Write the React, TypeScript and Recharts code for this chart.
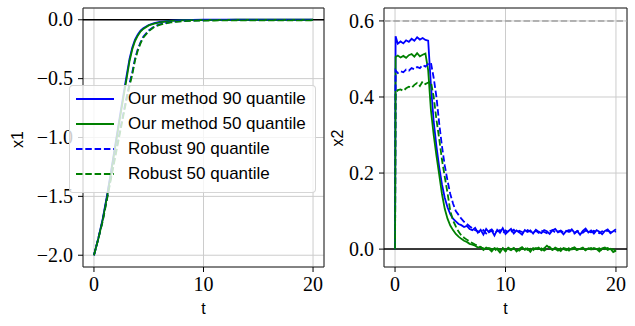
import React from 'react';
import {
  LineChart,
  Line,
  XAxis,
  YAxis,
  CartesianGrid,
  ReferenceLine,
  ReferenceArea,
  Legend,
  Label,
} from 'recharts';

// ---------- data: left panel (x1) ----------
const T1 = [0, 0.4, 0.8, 1.2, 1.6, 2.0, 2.4, 2.8, 3.0, 3.25, 3.5, 3.75, 4.0, 4.25, 4.5, 5.0, 5.5, 6.0, 6.5, 7.0, 7.5, 8.0, 9, 10, 11, 12, 13, 14, 15, 16, 17, 18, 19, 20];
const OURS90_X1 = [-2.0, -1.855, -1.69, -1.49, -1.265, -1.03, -0.8, -0.575, -0.465, -0.33, -0.235, -0.168, -0.125, -0.093, -0.072, -0.044, -0.029, -0.019, -0.013, -0.008, -0.005, -0.003, -0.001, 0, 0, 0, 0, 0, 0, 0, 0, 0, 0, 0];
const OURS50_X1 = [-2.0, -1.86, -1.7, -1.5, -1.28, -1.05, -0.82, -0.6, -0.49, -0.35, -0.25, -0.18, -0.135, -0.1, -0.078, -0.048, -0.032, -0.022, -0.015, -0.01, -0.007, -0.005, -0.003, -0.002, -0.001, -0.001, 0, 0, 0, 0, 0, 0, 0, 0];
const ROB90_X1 = [-2.0, -1.857, -1.705, -1.51, -1.315, -1.12, -0.93, -0.74, -0.65, -0.54, -0.445, -0.33, -0.25, -0.192, -0.145, -0.091, -0.057, -0.039, -0.028, -0.02, -0.014, -0.01, -0.006, -0.004, -0.003, -0.002, -0.002, -0.002, -0.002, -0.002, -0.002, -0.002, -0.002, -0.002];
const ROB50_X1 = [-2.0, -1.86, -1.71, -1.52, -1.33, -1.14, -0.95, -0.76, -0.67, -0.56, -0.465, -0.345, -0.262, -0.2, -0.152, -0.096, -0.061, -0.043, -0.031, -0.023, -0.017, -0.013, -0.009, -0.007, -0.006, -0.005, -0.005, -0.005, -0.005, -0.005, -0.005, -0.005, -0.005, -0.005];

// ---------- data: right panel (x2) ----------
const T2 = [
  0, 0.05,
  0.25, 0.5, 0.75, 1, 1.25, 1.5, 1.75, 2, 2.25, 2.5, 2.75, 3, 3.25, 3.5, 3.75, 4,
  4.25, 4.5, 4.75, 5, 5.25, 5.5, 5.75, 6, 6.25, 6.5, 6.75, 7, 7.25, 7.5, 7.75, 8,
  8.25, 8.5, 8.75, 9, 9.25, 9.5, 9.75, 10, 10.25, 10.5, 10.75, 11, 11.25, 11.5, 11.75, 12,
  12.25, 12.5, 12.75, 13, 13.25, 13.5, 13.75, 14, 14.25, 14.5, 14.75, 15, 15.25, 15.5, 15.75, 16,
  16.25, 16.5, 16.75, 17, 17.25, 17.5, 17.75, 18, 18.25, 18.5, 18.75, 19, 19.25, 19.5, 19.75, 20,
];
const OURS90_X2 = [
  0, 0.56,
  0.54, 0.546, 0.541, 0.549, 0.545, 0.553, 0.548, 0.557, 0.551, 0.555, 0.55, 0.548, 0.43, 0.335, 0.27, 0.215,
  0.17, 0.135, 0.11, 0.092, 0.08, 0.073, 0.066, 0.063, 0.058, 0.061, 0.053, 0.05, 0.056, 0.043, 0.051, 0.038,
  0.053, 0.044, 0.049, 0.036, 0.051, 0.043, 0.055, 0.04, 0.047, 0.053, 0.041, 0.049, 0.044, 0.038, 0.05, 0.045,
  0.049, 0.041, 0.051, 0.046, 0.042, 0.05, 0.047, 0.04, 0.049, 0.053, 0.044, 0.047, 0.039, 0.048, 0.045, 0.052,
  0.043, 0.047, 0.038, 0.048, 0.054, 0.044, 0.049, 0.041, 0.05, 0.046, 0.039, 0.048, 0.052, 0.042, 0.047, 0.052,
];
const OURS50_X2 = [
  0, 0.505,
  0.509, 0.504, 0.508, 0.503, 0.51, 0.513, 0.506, 0.515, 0.507, 0.511, 0.514, 0.47, 0.365, 0.3, 0.245, 0.195,
  0.145, 0.106, 0.08, 0.062, 0.05, 0.04, 0.033, 0.027, 0.022, 0.019, 0.014, 0.012, 0.009, 0.004, 0.006, -0.002,
  0.004, 0.001, -0.006, 0.003, 0, -0.009, 0.002, -0.004, 0.004, -0.001, 0.003, -0.006, 0.001, 0.005, -0.002, 0.002,
  -0.007, 0.003, 0, 0.004, -0.003, 0.002, 0.009, 0.003, -0.002, 0.004, 0, -0.005, 0.003, 0.001, -0.004, 0.002,
  0.005, -0.002, 0.001, 0.004, -0.003, 0.002, -0.001, 0.003, 0, -0.006, 0.002, 0.004, -0.002, 0.001, -0.008, -0.004,
];
const ROB90_X2 = [
  0, 0.47,
  0.463, 0.468, 0.465, 0.472, 0.469, 0.476, 0.473, 0.479, 0.476, 0.484, 0.48, 0.487, 0.49, 0.45, 0.4, 0.33,
  0.27, 0.22, 0.18, 0.145, 0.12, 0.1, 0.09, 0.08, 0.072, 0.066, 0.06, 0.055, 0.05, 0.047, 0.044, 0.05,
  0.041, 0.048, 0.052, 0.043, 0.047, 0.05, 0.042, 0.049, 0.044, 0.046, 0.051, 0.043, 0.048, 0.045, 0.042, 0.05,
  0.046, 0.044, 0.048, 0.043, 0.049, 0.045, 0.042, 0.047, 0.05, 0.044, 0.046, 0.049, 0.043, 0.047, 0.05, 0.045,
  0.041, 0.048, 0.045, 0.043, 0.049, 0.046, 0.044, 0.048, 0.045, 0.042, 0.047, 0.044, 0.049, 0.045, 0.043, 0.047,
];
const ROB50_X2 = [
  0, 0.41,
  0.418, 0.42, 0.416, 0.423, 0.427, 0.424, 0.432, 0.437, 0.429, 0.441, 0.434, 0.438, 0.44, 0.4, 0.34, 0.29,
  0.235, 0.19, 0.148, 0.1, 0.075, 0.06, 0.046, 0.036, 0.03, 0.025, 0.02, 0.016, 0.012, 0.009, 0.005, 0.002,
  -0.003, 0.003, 0, -0.005, 0.002, -0.002, 0.003, -0.006, 0.001, -0.003, 0.002, 0, -0.004, 0.002, 0.004, -0.002,
  0.001, -0.003, 0.003, -0.001, 0.002, -0.004, 0.001, 0.006, -0.002, 0.001, -0.004, 0.002, 0, -0.003, 0.003, -0.001,
  0.002, -0.004, 0, 0.002, -0.003, 0.001, 0.003, -0.002, 0, 0.002, -0.005, 0.001, 0.003, -0.002, 0, -0.006,
];

// ---------- ticks ----------
const X_TICKS = [0, 10, 20];
const X1_TICKS = [-2, -1.5, -1, -0.5, 0];
const X2_TICKS = [0, 0.2, 0.4, 0.6];
const X2_LIMIT = 0.6;

const DASH = '6.5 2.8';
const SERIES = [
  { key: 'o90', name: 'Our method 90 quantile', color: '#0000ff', dash: undefined as string | undefined },
  { key: 'o50', name: 'Our method 50 quantile', color: '#008000', dash: undefined as string | undefined },
  { key: 'r90', name: 'Robust 90 quantile', color: '#0000ff', dash: DASH },
  { key: 'r50', name: 'Robust 50 quantile', color: '#008000', dash: DASH },
];

const leftData = T1.map((t, i) => ({ t, o90: OURS90_X1[i], o50: OURS50_X1[i], r90: ROB90_X1[i], r50: ROB50_X1[i] }));
const rightData = T2.map((t, i) => ({ t, o90: OURS90_X2[i], o50: OURS50_X2[i], r90: ROB90_X2[i], r50: ROB50_X2[i] }));

const SERIF = '"Liberation Serif", "DejaVu Serif", serif';
const SANS = '"Liberation Sans", "DejaVu Sans", sans-serif';
const fmt = (v: number) => (v < 0 ? '\u2212' : '') + Math.abs(v).toFixed(1);

const XTick = (props: any) => (
  <text
    x={props.x}
    y={props.y}
    dy="0.71em"
    textAnchor="middle"
    fill="#000"
    fontFamily={SERIF}
    fontSize={20}
    style={{ fontFamily: SERIF, fontSize: 20 }}
  >
    {String(props.payload.value)}
  </text>
);
const YTick = (props: any) => (
  <text
    x={props.x}
    y={props.y}
    dy="0.33em"
    textAnchor="end"
    fill="#000"
    fontFamily={SERIF}
    fontSize={20}
    style={{ fontFamily: SERIF, fontSize: 20 }}
  >
    {fmt(props.payload.value)}
  </text>
);

const H = 326;
const PLOT_TOP = 8;
const X_AXIS_H = 59;
const LINE_W = 1.8;

const LegendBox = () => (
  <div
    style={{
      position: 'relative',
      width: 247,
      height: 108,
      boxSizing: 'border-box',
      background: 'rgba(255,255,255,0.8)',
      border: '1px solid rgba(204,204,204,0.8)',
      borderRadius: 4,
    }}
  >
    {SERIES.map((s, i) => (
      <div key={s.key} style={{ position: 'absolute', left: 0, top: 3 + i * 25, height: 20, width: '100%' }}>
        <svg width={40} height={20} style={{ position: 'absolute', left: 6, top: 0 }}>
          <line x1={0} y1={10} x2={38} y2={10} stroke={s.color} strokeWidth={LINE_W} strokeDasharray={s.dash} />
        </svg>
        <span
          style={{
            position: 'absolute',
            left: 58,
            top: 0,
            lineHeight: '20px',
            fontSize: 17,
            fontFamily: SANS,
            color: '#000',
            whiteSpace: 'nowrap',
          }}
        >
          {s.name}
        </span>
      </div>
    ))}
  </div>
);

const makeXLabel = (cx: number) => () => (
  <text x={cx} y={314} textAnchor="middle" fill="#000" style={{ fontFamily: SANS, fontSize: 16 }}>
    t
  </text>
);
const makeYLabel = (text: string, cy: number) => () => (
  <text
    x={17.5}
    y={cy}
    transform={`rotate(-90 17.5 ${cy})`}
    textAnchor="middle"
    dominantBaseline="central"
    fill="#000"
    style={{ fontFamily: SANS, fontSize: 16 }}
  >
    {text}
  </text>
);

const renderLines = () =>
  SERIES.map((s) => (
    <Line
      key={s.key}
      dataKey={s.key}
      name={s.name}
      type="linear"
      stroke={s.color}
      strokeWidth={LINE_W}
      strokeDasharray={s.dash}
      dot={false}
      activeDot={false}
      isAnimationActive={false}
    />
  ));

export default function App() {
  const LW = 330;
  const LY = 83;
  const LR = 6;
  const leftCx = LY + (LW - LY - LR) / 2;
  const RW = 315;
  const RY = 64;
  const RR = 8;
  const rightCx = RY + (RW - RY - RR) / 2;

  return (
    <div style={{ position: 'absolute', left: 0, top: 0, width: 635, height: H, background: '#fff' }}>
      <div style={{ position: 'absolute', left: 0, top: 0 }}>
        <LineChart width={LW} height={H} data={leftData} margin={{ top: PLOT_TOP, right: LR, bottom: 0, left: 0 }}>
          <CartesianGrid stroke="#cccccc" strokeWidth={1} />
          <XAxis
            dataKey="t"
            type="number"
            domain={[-1, 21]}
            ticks={X_TICKS}
            interval={0}
            allowDataOverflow
            height={X_AXIS_H}
            axisLine={false}
            tickLine={{ stroke: '#000' }}
            tickSize={5}
            tickMargin={5}
            tick={XTick}
          >
            <Label content={makeXLabel(leftCx)} />
          </XAxis>
          <YAxis
            type="number"
            domain={[-2.1, 0.1]}
            ticks={X1_TICKS}
            interval={0}
            allowDataOverflow
            width={LY}
            axisLine={false}
            tickLine={{ stroke: '#000' }}
            tickSize={5}
            tickMargin={5}
            tick={YTick}
          >
            <Label content={makeYLabel('x1', 139.5)} />
          </YAxis>
          <ReferenceLine y={0} stroke="#000" strokeWidth={1.5} />
          {renderLines()}
          <ReferenceArea x1={-1} x2={21} y1={-2.1} y2={0.1} fill="none" fillOpacity={0} stroke="#222" strokeWidth={1} />
          <Legend
            layout="vertical"
            align="center"
            verticalAlign="middle"
            wrapperStyle={{ left: 69, top: 85, width: 247, height: 108 }}
            content={LegendBox}
          />
        </LineChart>
      </div>
      <div style={{ position: 'absolute', left: 320, top: 0 }}>
        <LineChart width={RW} height={H} data={rightData} margin={{ top: PLOT_TOP, right: RR, bottom: 0, left: 0 }}>
          <CartesianGrid stroke="#cccccc" strokeWidth={1} />
          <XAxis
            dataKey="t"
            type="number"
            domain={[-1, 21]}
            ticks={X_TICKS}
            interval={0}
            allowDataOverflow
            height={X_AXIS_H}
            axisLine={false}
            tickLine={{ stroke: '#000' }}
            tickSize={5}
            tickMargin={5}
            tick={XTick}
          >
            <Label content={makeXLabel(rightCx)} />
          </XAxis>
          <YAxis
            type="number"
            domain={[-0.047, 0.634]}
            ticks={X2_TICKS}
            interval={0}
            allowDataOverflow
            width={RY}
            axisLine={false}
            tickLine={{ stroke: '#000' }}
            tickSize={5}
            tickMargin={5}
            tick={YTick}
          >
            <Label content={makeYLabel('x2', 138)} />
          </YAxis>
          <ReferenceLine y={X2_LIMIT} stroke="#a0a0a0" strokeWidth={1.5} strokeDasharray={DASH} />
          <ReferenceLine y={0} stroke="#000" strokeWidth={1.5} />
          {renderLines()}
          <ReferenceArea x1={-1} x2={21} y1={-0.047} y2={0.634} fill="none" fillOpacity={0} stroke="#222" strokeWidth={1} />
        </LineChart>
      </div>
    </div>
  );
}
